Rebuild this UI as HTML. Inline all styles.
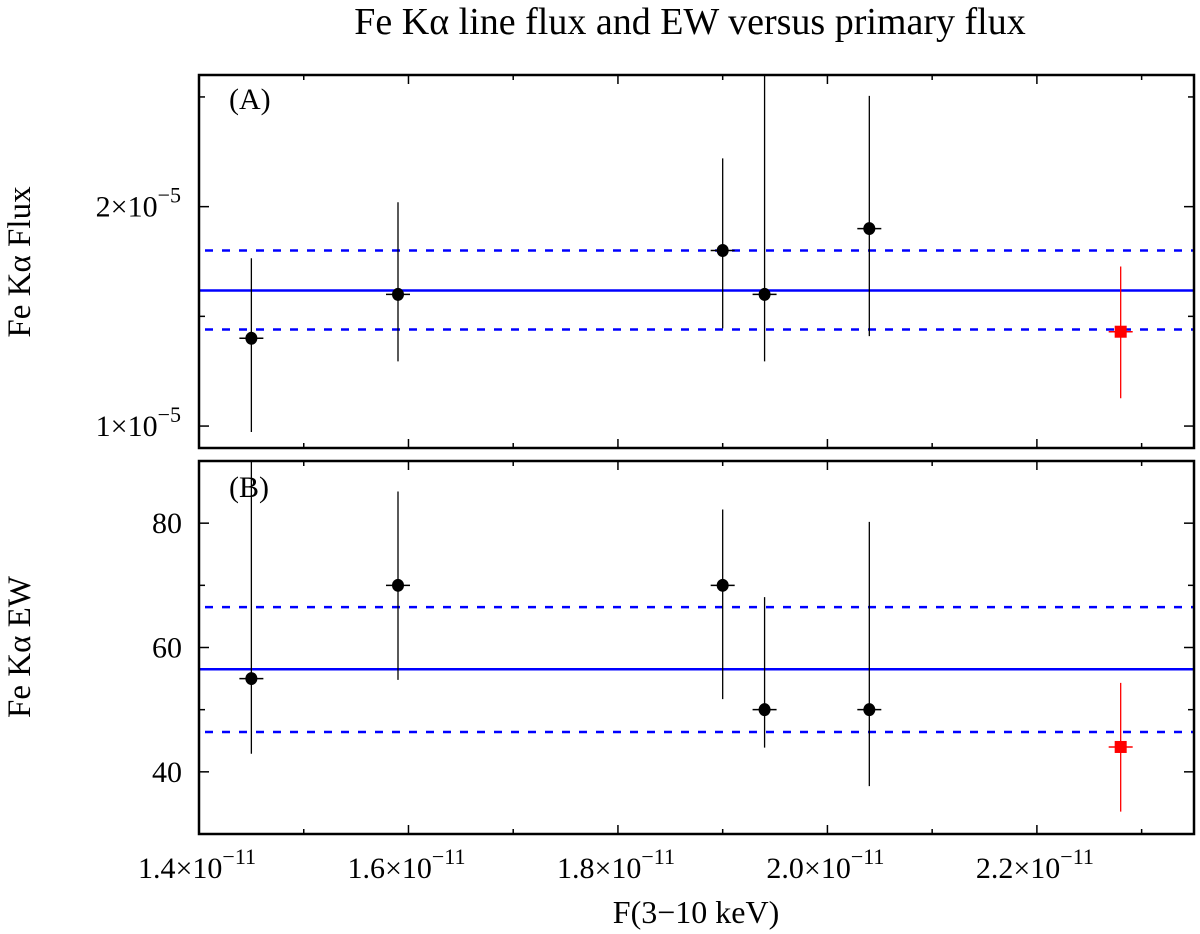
<!DOCTYPE html>
<html><head><meta charset="utf-8"><style>
html,body{margin:0;padding:0;background:#fff}
svg{display:block;font-family:"Liberation Serif",serif}
</style></head><body>
<svg id="chart" width="1200" height="934" viewBox="0 0 1200 934" xmlns="http://www.w3.org/2000/svg">
<text x="690" y="34" font-size="38" text-anchor="middle">Fe Kα line flux and EW versus primary flux</text>
<text transform="translate(30,262) rotate(-90)" font-size="33" text-anchor="middle">Fe Kα Flux</text>
<text transform="translate(30,647) rotate(-90)" font-size="33" text-anchor="middle">Fe Kα EW</text>
<text x="696" y="923" font-size="32" text-anchor="middle">F(3−10 keV)</text>
<text x="229" y="109" font-size="30">(A)</text>
<text x="229" y="497" font-size="30">(B)</text>
<g id="layer"></g>
</svg>
<script>
// shared x data
const xs = [1.45, 1.59, 1.90, 1.94, 2.04, 2.28];
const isRed = [false, false, false, false, false, true];
// panel A (units of 1e-5)
const fluxVals = [1.40, 1.60, 1.80, 1.60, 1.90, 1.43];
const fluxHi = [1.765, 2.02, 2.22, 2.70, 2.505, 1.727];
const fluxLo = [0.973, 1.295, 1.445, 1.295, 1.41, 1.127];
const fluxMean = [1.618];
const fluxBand = [1.80, 1.44];
const fluxTicks = [1, 2];
const fluxTickLabels = ["1", "2"];
const fluxMinor = [1.5, 2.5];
// panel B
const ewVals = [55, 70, 70, 50, 50, 44];
const ewHi = [95, 85.1, 82.2, 68.1, 80.2, 54.3];
const ewLo = [42.9, 54.8, 51.7, 43.9, 37.7, 33.6];
const ewMean = [56.5];
const ewBand = [66.5, 46.4];
const ewTicks = [40, 60, 80];
const ewTickLabels = ["40", "60", "80"];
const ewMinor = [50, 70];
// x ticks (units 1e-11)
const xTicks = [1.4, 1.6, 1.8, 2.0, 2.2];
const xTickLabels = ["1.4", "1.6", "1.8", "2.0", "2.2"];
const xMinor = [1.5, 1.7, 1.9, 2.1, 2.3];

const NS = "http://www.w3.org/2000/svg";
const layer = document.getElementById('layer');
const L = 199, R = 1194;
const xMin = 1.4, xMax = 2.35;
const X = v => L + (v - xMin) / (xMax - xMin) * (R - L);
function mk(tag, attrs, parent) {
  const e = document.createElementNS(NS, tag);
  for (const k in attrs) e.setAttribute(k, attrs[k]);
  (parent || layer).appendChild(e);
  return e;
}
function panel(top, bot, yMin, yMax, vals, hi, lo, mean, band, ticks, tickLabels, minor, sup, name) {
  const Y = v => bot - (v - yMin) / (yMax - yMin) * (bot - top);
  const g = mk('g', {});
  
  
  const clipId = 'clip-' + name;
  const cp = mk('clipPath', {id: clipId}, g);
  mk('rect', {x: L, y: top, width: R - L, height: bot - top}, cp);
  const inner = mk('g', {'clip-path': 'url(#' + clipId + ')'}, g);
  const ml = mk('line', {x1: L, x2: R, y1: Y(mean[0]), y2: Y(mean[0]), stroke: '#0000ff', 'stroke-width': 2.5}, inner);
  
  
  band.forEach(b => {
    const dl = mk('line', {x1: L + 6, x2: R, y1: Y(b), y2: Y(b), stroke: '#0000ff', 'stroke-width': 2.5, 'stroke-dasharray': '8 9'}, inner);
    
    
  });
  xs.forEach((xv, i) => {
    const c = isRed[i] ? '#ff0000' : '#000';
    const px = X(xv), py = Y(vals[i]);
    const pg = mk('g', {}, inner);
    
    
    mk('line', {x1: px, x2: px, y1: Y(hi[i]), y2: Y(lo[i]), stroke: c, 'stroke-width': 1.3}, pg);
    mk('line', {x1: px - 12, x2: px + 12, y1: py, y2: py, stroke: c, 'stroke-width': 1.5}, pg);
    if (isRed[i]) mk('rect', {x: px - 6, y: py - 6, width: 12, height: 12, fill: c}, pg);
    else mk('ellipse', {cx: px, cy: py, rx: 6, ry: 6.5, fill: c}, pg);
  });
  const fr = mk('rect', {x: L, y: top, width: R - L, height: bot - top, fill: 'none', stroke: '#000', 'stroke-width': 2.5}, g);
  
  
  ticks.forEach((t, i) => {
    const y = Y(t);
    mk('line', {x1: L, x2: L + 10, y1: y, y2: y, stroke: '#000', 'stroke-width': 1.5}, g);
    mk('line', {x1: R - 10, x2: R, y1: y, y2: y, stroke: '#000', 'stroke-width': 1.5}, g);
    const tx = mk('text', {x: sup ? 181 : 182, y: y + 10, 'font-size': 30, 'text-anchor': 'end'}, g);
    
    
    if (sup) {
      tx.textContent = tickLabels[i] + '×10';
      const ts = mk('tspan', {dy: -14, 'font-size': 22}, tx);
      ts.textContent = '−5';
    } else tx.textContent = tickLabels[i];
  });
  minor.forEach(t => {
    const y = Y(t);
    mk('line', {x1: L, x2: L + 6, y1: y, y2: y, stroke: '#000', 'stroke-width': 1.5}, g);
    mk('line', {x1: R - 6, x2: R, y1: y, y2: y, stroke: '#000', 'stroke-width': 1.5}, g);
  });
  xTicks.forEach(t => {
    const x = X(t);
    mk('line', {x1: x, x2: x, y1: top, y2: top + 9, stroke: '#000', 'stroke-width': 1.5}, g);
    mk('line', {x1: x, x2: x, y1: bot - 9, y2: bot, stroke: '#000', 'stroke-width': 1.5}, g);
  });
  xMinor.forEach(t => {
    const x = X(t);
    mk('line', {x1: x, x2: x, y1: top, y2: top + 5, stroke: '#000', 'stroke-width': 1.5}, g);
    mk('line', {x1: x, x2: x, y1: bot - 5, y2: bot, stroke: '#000', 'stroke-width': 1.5}, g);
  });
}
panel(75, 448, 0.9, 2.6, fluxVals, fluxHi, fluxLo, fluxMean, fluxBand, fluxTicks, fluxTickLabels, fluxMinor, true, 'panel-a-flux');
panel(461, 834, 30, 90, ewVals, ewHi, ewLo, ewMean, ewBand, ewTicks, ewTickLabels, ewMinor, false, 'panel-b-ew');
xTicks.forEach((t, i) => {
  const tx = mk('text', {x: X(t) - 2, y: 878, 'font-size': 30, 'text-anchor': 'middle'});
  
  
  tx.textContent = xTickLabels[i] + '×10';
  const ts = mk('tspan', {dy: -14, 'font-size': 22}, tx);
  ts.textContent = '−11';
});
</script>
</body></html>
